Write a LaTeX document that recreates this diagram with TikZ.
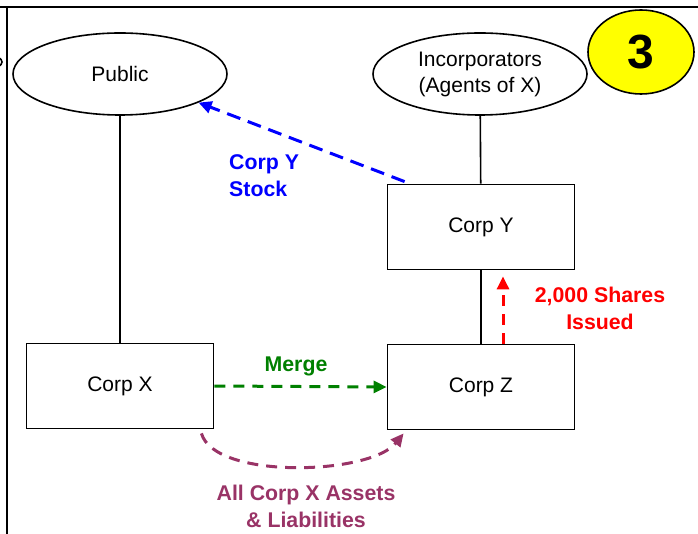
\documentclass[tikz,border=0pt]{standalone}
\usepackage{fontspec}
\setmainfont{Liberation Sans}
\usepackage{xcolor}
\usepackage{tikz}
\usetikzlibrary{calc,arrows.meta,shapes.geometric}
\definecolor{ink}{HTML}{000000}
\definecolor{stockblue}{HTML}{0000FF}
\definecolor{mergegreen}{HTML}{008000}
\definecolor{sharered}{HTML}{FF0000}
\definecolor{assetplum}{HTML}{993366}
\definecolor{badge}{HTML}{FFFF00}
\tikzset{
  frame/.style={draw=ink, line width=2.4pt},
  corp/.style={draw=ink, line width=1.8pt, rectangle, minimum width=187pt, minimum height=85pt,
    inner sep=0pt, font=\fontsize{21}{25}\selectfont},
  party/.style={draw=ink, line width=1.6pt, ellipse, minimum width=214pt, minimum height=82pt,
    inner sep=0pt, align=center, font=\fontsize{21}{26}\selectfont},
  tie/.style={draw=ink, line width=1.6pt},
  flow/.style={line width=3pt, dash pattern=on 11pt off 8pt,
    -{Triangle[length=13pt,width=12pt]}},
  lbl/.style={font=\bfseries\fontsize{21.3}{27}\selectfont, inner sep=0pt},
}

\begin{document}
\begin{tikzpicture}[x=1pt,y=-1pt]
  \useasboundingbox (0,0) rectangle (698,534);

  % slide frame
  \draw[frame] (0,7) -- (698,7);
  \draw[frame] (7,7) -- (7,534);
  \draw[tie] (-42,62) ellipse (44 and 12);

  % parties and corporations
  \node[party] (public) at (120,74) {Public};
  \node[party] (incorp) at (480,74) {Incorporators\\(Agents of X)};
  \node[draw=ink, line width=1.6pt, fill=badge, ellipse, minimum width=106pt, minimum height=84pt,
    inner sep=0pt, font=\bfseries\fontsize{48}{50}\selectfont] (step3) at (641,52) {3};
  \node[corp] (corpY) at (481,227) {Corp Y};
  \node[corp] (corpX) at (120,386) {Corp X};
  \node[corp] (corpZ) at (481,387) {Corp Z};

  \draw[tie] (public) -- (corpX);
  \draw[tie] (incorp) -- (corpY);
  \draw[tie] (corpY) -- (corpZ);

  % transfers
  \coordinate (stockFrom) at ($(corpY.north west)+(18,-2)$);
  \draw[flow, stockblue, dash pattern=on 14pt off 8pt] (stockFrom) -- (public.-20.6);
  \node[lbl, stockblue, align=left, anchor=west] (stockLbl) at (229,176) {Corp Y\\Stock};

  \coordinate (shareFrom) at ($(corpZ.north)+(22,0)$);
  \coordinate (shareTo) at ($(corpY.south)+(22,6)$);
  \draw[flow, sharered] (shareFrom) -- (shareTo);
  \node[lbl, sharered, align=center] (shareLbl) at (600,308) {2,000 Shares\\Issued};

  \draw[flow, mergegreen] (corpX.east) -- (corpZ.west);
  \node[lbl, mergegreen] (mergeLbl) at (296,366) {Merge};

  \coordinate (assetFrom) at ($(corpX.south east)+(-13,4)$);
  \coordinate (assetTo) at ($(corpZ.south west)+(17,3)$);
  \draw[flow, assetplum] (assetFrom) .. controls (215,480) and (370,475) .. (assetTo);
  \node[lbl, assetplum, align=center] (assetLbl) at (306,506) {All Corp X Assets\\\& Liabilities};
\end{tikzpicture}
\end{document}
